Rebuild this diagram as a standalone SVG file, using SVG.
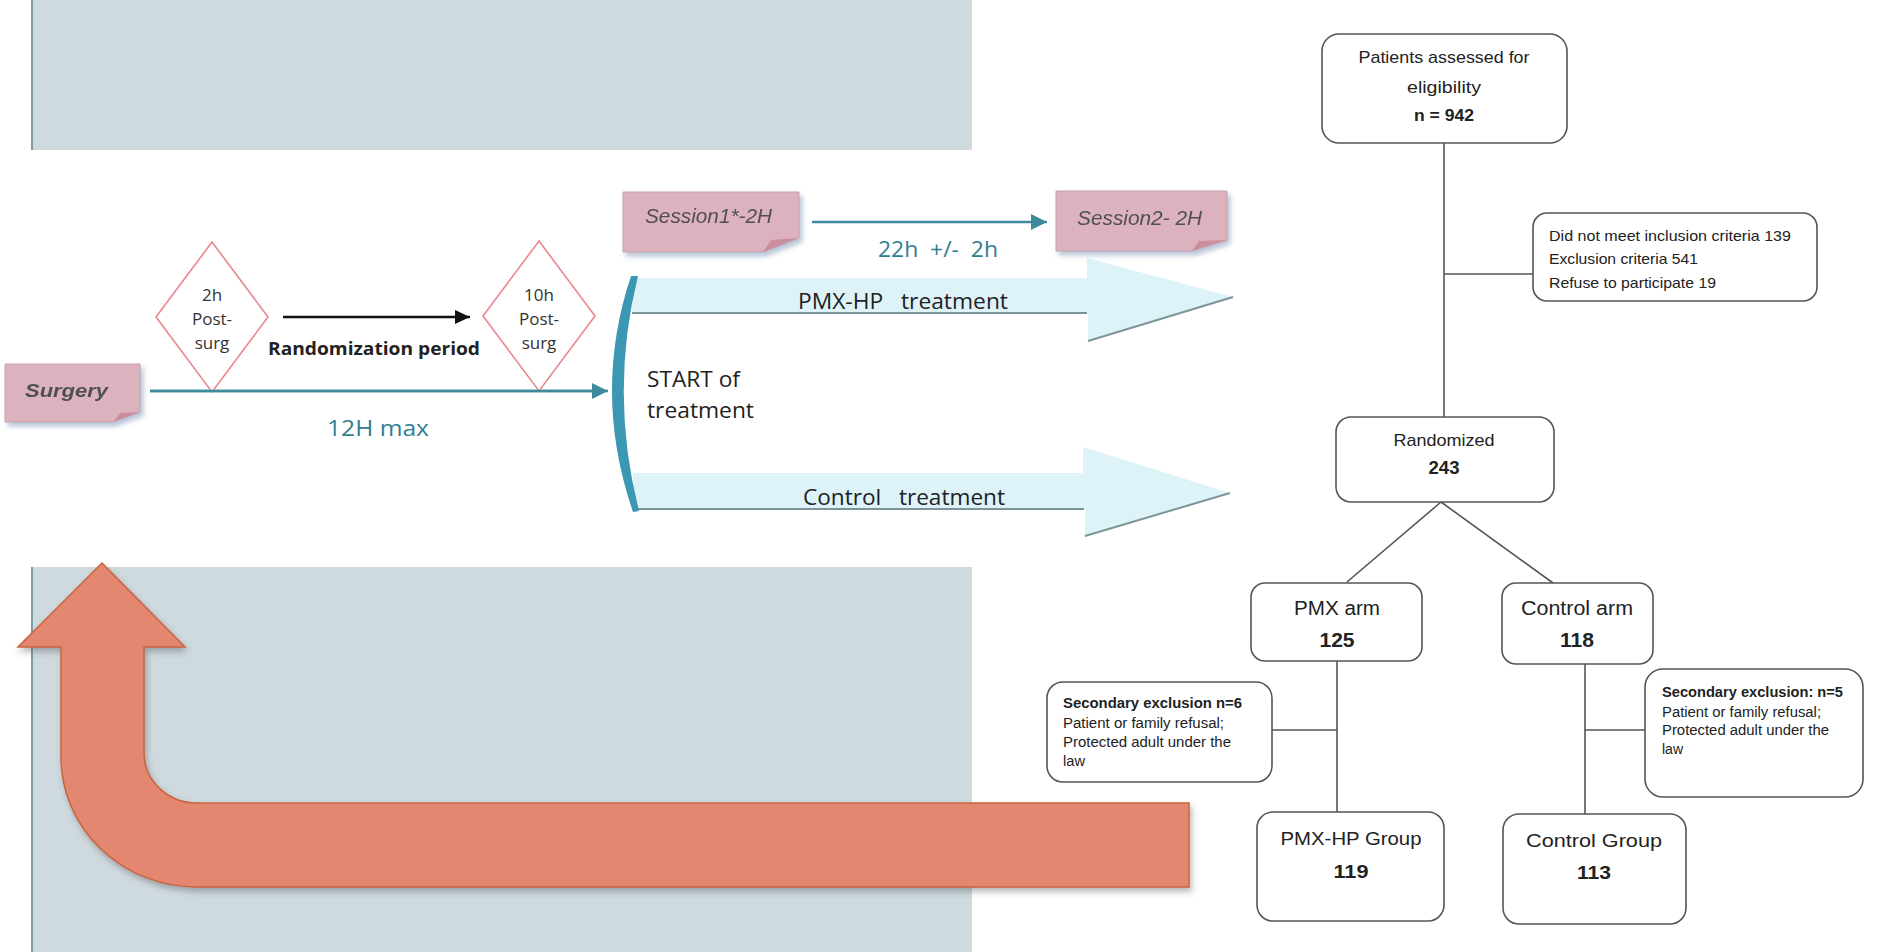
<svg xmlns="http://www.w3.org/2000/svg" width="1882" height="952" viewBox="0 0 1882 952">
  <defs>
    <style>
      .panel { fill: #cfdadf; }
      .panel-edge { stroke: #7f9c9f; stroke-width: 2; }
      .note { fill: #dbb2be; stroke: #c9a2ae; stroke-width: 1; }
      .fold { fill: #c98f9d; }
      .note-text { font-family: "Liberation Sans", Arial, sans-serif; font-style: italic; fill: #505050; }
      .diamond { fill: #ffffff; stroke: #e8868f; stroke-width: 1.6; }
      .dtext { font-family: "Open Sans", "Liberation Sans", sans-serif; font-size: 17px; fill: #333; text-anchor: middle; }
      .teal-line { stroke: #3c8a9c; stroke-width: 2.5; fill: none; }
      .teal-text { font-family: "Open Sans", "Liberation Sans", sans-serif; fill: #2f7e92; }
      .band { fill: #ddf3f8; }
      .band-edge { stroke: #7d9599; stroke-width: 2; fill: none; }
      .dark-text { font-family: "Open Sans", "Liberation Sans", sans-serif; fill: #222; white-space: pre; }
      .box { fill: #ffffff; stroke: #555; stroke-width: 1.6; }
      .link { stroke: #555; stroke-width: 1.6; fill: none; }
      .ft { font-family: "Liberation Sans", Arial, sans-serif; fill: #222; }
      .c { text-anchor: middle; }
      .b { font-weight: bold; }
    </style>
    <filter id="noteShadow" x="-10%" y="-20%" width="130%" height="160%">
      <feDropShadow dx="3" dy="4" stdDeviation="2.5" flood-color="#9aaec8" flood-opacity="0.7"/>
    </filter>
    <filter id="arrowShadow" x="-5%" y="-5%" width="110%" height="115%">
      <feDropShadow dx="2" dy="4" stdDeviation="3" flood-color="#4a4a4a" flood-opacity="0.4"/>
    </filter>
    <marker id="tealHead" markerUnits="userSpaceOnUse" markerWidth="17" markerHeight="16" refX="16" refY="8" orient="auto">
      <path d="M0,0 L16,8 L0,16 Z" fill="#3c8a9c"/>
    </marker>
    <marker id="blackHead" markerUnits="userSpaceOnUse" markerWidth="16" markerHeight="14" refX="15" refY="7" orient="auto">
      <path d="M0,0 L15,7 L0,14 Z" fill="#111"/>
    </marker>
  </defs>

  <rect width="1882" height="952" fill="#ffffff"/>

  <!-- background panels -->
  <g id="panels">
    <rect class="panel" x="31" y="0" width="941" height="150"/>
    <line class="panel-edge" x1="32" y1="0" x2="32" y2="150"/>
    <rect class="panel" x="31" y="567" width="941" height="385"/>
    <line class="panel-edge" x1="32" y1="567" x2="32" y2="952"/>
  </g>

  <!-- large curved return arrow -->
  <g id="return-arrow">
    <path d="M102,563 L185,647 L144,647 L144,753 A53,50 0 0 0 197,803 L1189,803 L1189,887 L197,887 A136,130 0 0 1 61,757 L61,647 L18,647 Z"
          fill="#e3876f" stroke="#c9643f" stroke-width="1.5" filter="url(#arrowShadow)"/>
  </g>

  <!-- treatment bands -->
  <g id="pmx-band">
    <path class="band" d="M632,278 L1087,278 L1087,258 L1233,297 L1088,341 L1088,313 L632,313 Z"/>
    <path class="band-edge" d="M632,313 L1087,313 M1088,341 L1233,297"/>
    <text class="dark-text" x="798" y="309" font-size="21" textLength="210" lengthAdjust="spacingAndGlyphs">PMX-HP   treatment</text>
  </g>
  <g id="control-band">
    <path class="band" d="M633,473 L1083,473 L1083,447 L1230,493 L1085,536 L1085,509 L633,509 Z"/>
    <path class="band-edge" d="M633,509 L1084,509 M1085,536 L1230,493"/>
    <text class="dark-text" x="803" y="505" font-size="21" textLength="202" lengthAdjust="spacingAndGlyphs">Control   treatment</text>
  </g>

  <!-- start bracket -->
  <g id="start">
    <path d="M631,276 Q592,393 633,512 L639,511 Q609,393 638,276 Z" fill="#3b97b2"/>
    <text class="dark-text" x="647" y="387" font-size="22" textLength="93" lengthAdjust="spacingAndGlyphs">START of</text>
    <text class="dark-text" x="647" y="418" font-size="22" textLength="107" lengthAdjust="spacingAndGlyphs">treatment</text>
  </g>

  <!-- timeline connectors -->
  <g id="timeline-connectors">
    <line class="teal-line" x1="150" y1="391" x2="608" y2="391" marker-end="url(#tealHead)"/>
    <line class="teal-line" x1="812" y1="222" x2="1047" y2="222" marker-end="url(#tealHead)"/>
    <line x1="283" y1="317" x2="470" y2="317" stroke="#111" stroke-width="2.5" marker-end="url(#blackHead)"/>
    <text class="teal-text" x="327" y="436" font-size="22" textLength="102" lengthAdjust="spacingAndGlyphs">12H max</text>
    <text class="teal-text" x="878" y="257" font-size="21" textLength="120" lengthAdjust="spacingAndGlyphs" style="white-space:pre">22h  +/-  2h</text>
    <text class="dark-text b" x="268" y="355" font-size="18.5" textLength="212" lengthAdjust="spacingAndGlyphs">Randomization period</text>
  </g>

  <!-- sticky notes -->
  <g id="surgery" filter="url(#noteShadow)">
    <path class="note" d="M5,364 L140,364 L140,412 L113,422 L5,422 Z"/>
    <path class="fold" d="M113,422 L120,413 L140,412 Z"/>
    <text class="note-text" x="25" y="397" font-size="18" font-weight="bold" textLength="83" lengthAdjust="spacingAndGlyphs">Surgery</text>
  </g>
  <g id="session1" filter="url(#noteShadow)">
    <path class="note" d="M623,192 L799,192 L799,238 L763,252 L623,252 Z"/>
    <path class="fold" d="M763,252 L771,240 L799,238 Z"/>
    <text class="note-text" x="645" y="223" font-size="20" textLength="127" lengthAdjust="spacingAndGlyphs">Session1*-2H</text>
  </g>
  <g id="session2" filter="url(#noteShadow)">
    <path class="note" d="M1056,191 L1227,191 L1227,240 L1192,251 L1056,251 Z"/>
    <path class="fold" d="M1192,251 L1199,241 L1227,240 Z"/>
    <text class="note-text" x="1077" y="225" font-size="20" textLength="125" lengthAdjust="spacingAndGlyphs">Session2- 2H</text>
  </g>

  <!-- decision points -->
  <g id="post-2h">
    <path class="diamond" d="M212,242 L268,317 L212,392 L156,317 Z"/>
    <text class="dtext" x="212" y="301">2h</text>
    <text class="dtext" x="212" y="325">Post-</text>
    <text class="dtext" x="212" y="349">surg</text>
  </g>
  <g id="post-10h">
    <path class="diamond" d="M539,241 L595,316 L539,391 L483,316 Z"/>
    <text class="dtext" x="539" y="301">10h</text>
    <text class="dtext" x="539" y="325">Post-</text>
    <text class="dtext" x="539" y="349">surg</text>
  </g>
  <line class="teal-line" x1="150" y1="391" x2="592" y2="391"/>

  <!-- flow chart connectors -->
  <g id="flow-connectors">
    <line class="link" x1="1444" y1="143" x2="1444" y2="417"/>
    <line class="link" x1="1444" y1="274" x2="1533" y2="274"/>
    <line class="link" x1="1441" y1="502" x2="1347" y2="582"/>
    <line class="link" x1="1441" y1="502" x2="1553" y2="583"/>
    <line class="link" x1="1337" y1="661" x2="1337" y2="812"/>
    <line class="link" x1="1272" y1="730" x2="1337" y2="730"/>
    <line class="link" x1="1585" y1="664" x2="1585" y2="814"/>
    <line class="link" x1="1585" y1="730" x2="1645" y2="730"/>
  </g>

  <!-- flow chart nodes -->
  <g id="assessed">
    <rect class="box" x="1322" y="34" width="245" height="109" rx="17"/>
    <text class="ft c" x="1444" y="63" font-size="17" textLength="171" lengthAdjust="spacingAndGlyphs">Patients assessed for</text>
    <text class="ft c" x="1444" y="93" font-size="17" textLength="74" lengthAdjust="spacingAndGlyphs">eligibility</text>
    <text class="ft c b" x="1444" y="121" font-size="17" textLength="60" lengthAdjust="spacingAndGlyphs">n = 942</text>
  </g>
  <g id="excluded">
    <rect class="box" x="1533" y="213" width="284" height="88" rx="14"/>
    <text class="ft" x="1549" y="241" font-size="14.5" textLength="242" lengthAdjust="spacingAndGlyphs">Did not meet inclusion criteria 139</text>
    <text class="ft" x="1549" y="264" font-size="14.5" textLength="149" lengthAdjust="spacingAndGlyphs">Exclusion criteria 541</text>
    <text class="ft" x="1549" y="288" font-size="14.5" textLength="167" lengthAdjust="spacingAndGlyphs">Refuse to participate 19</text>
  </g>
  <g id="randomized">
    <rect class="box" x="1336" y="417" width="218" height="85" rx="15"/>
    <text class="ft c" x="1444" y="446" font-size="17" textLength="101" lengthAdjust="spacingAndGlyphs">Randomized</text>
    <text class="ft c b" x="1444" y="474" font-size="18" textLength="31" lengthAdjust="spacingAndGlyphs">243</text>
  </g>
  <g id="pmx-arm">
    <rect class="box" x="1251" y="583" width="171" height="78" rx="14"/>
    <text class="ft c" x="1337" y="615" font-size="20" textLength="86" lengthAdjust="spacingAndGlyphs">PMX arm</text>
    <text class="ft c b" x="1337" y="647" font-size="20" textLength="35" lengthAdjust="spacingAndGlyphs">125</text>
  </g>
  <g id="control-arm">
    <rect class="box" x="1502" y="583" width="151" height="81" rx="14"/>
    <text class="ft c" x="1577" y="615" font-size="20" textLength="112" lengthAdjust="spacingAndGlyphs">Control arm</text>
    <text class="ft c b" x="1577" y="647" font-size="20" textLength="34" lengthAdjust="spacingAndGlyphs">118</text>
  </g>
  <g id="pmx-exclusion">
    <rect class="box" x="1047" y="682" width="225" height="100" rx="16"/>
    <text class="ft b" x="1063" y="708" font-size="14" textLength="179" lengthAdjust="spacingAndGlyphs">Secondary exclusion n=6</text>
    <text class="ft" x="1063" y="728" font-size="14" textLength="161" lengthAdjust="spacingAndGlyphs">Patient or family refusal;</text>
    <text class="ft" x="1063" y="747" font-size="14" textLength="168" lengthAdjust="spacingAndGlyphs">Protected adult under the</text>
    <text class="ft" x="1063" y="766" font-size="14" textLength="22" lengthAdjust="spacingAndGlyphs">law</text>
  </g>
  <g id="control-exclusion">
    <rect class="box" x="1645" y="669" width="218" height="128" rx="18"/>
    <text class="ft b" x="1662" y="697" font-size="14" textLength="181" lengthAdjust="spacingAndGlyphs">Secondary exclusion: n=5</text>
    <text class="ft" x="1662" y="717" font-size="14" textLength="159" lengthAdjust="spacingAndGlyphs">Patient or family refusal;</text>
    <text class="ft" x="1662" y="735" font-size="14" textLength="167" lengthAdjust="spacingAndGlyphs">Protected adult under the</text>
    <text class="ft" x="1662" y="754" font-size="14" textLength="21" lengthAdjust="spacingAndGlyphs">law</text>
  </g>
  <g id="pmx-group">
    <rect class="box" x="1257" y="812" width="187" height="109" rx="16"/>
    <text class="ft c" x="1351" y="845" font-size="19" textLength="141" lengthAdjust="spacingAndGlyphs">PMX-HP Group</text>
    <text class="ft c b" x="1351" y="878" font-size="19" textLength="35" lengthAdjust="spacingAndGlyphs">119</text>
  </g>
  <g id="control-group">
    <rect class="box" x="1503" y="814" width="183" height="110" rx="16"/>
    <text class="ft c" x="1594" y="847" font-size="19" textLength="136" lengthAdjust="spacingAndGlyphs">Control Group</text>
    <text class="ft c b" x="1594" y="879" font-size="19" textLength="34" lengthAdjust="spacingAndGlyphs">113</text>
  </g>
</svg>
